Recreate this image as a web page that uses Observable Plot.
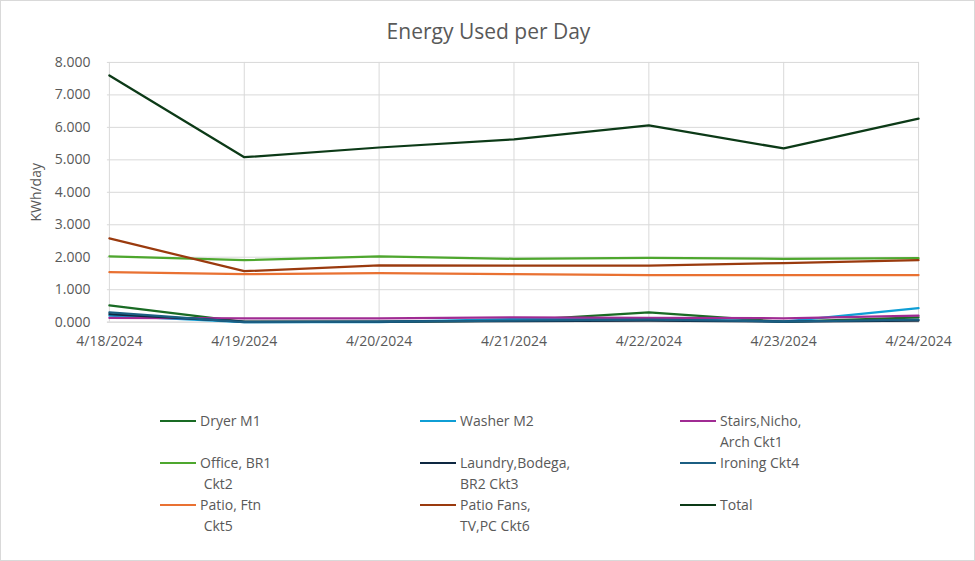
<!DOCTYPE html>
<html>
<head>
<meta charset="utf-8">
<script src="https://cdn.jsdelivr.net/npm/d3@7"></script>
<script src="https://cdn.jsdelivr.net/npm/@observablehq/plot@0.6"></script>
<style>
  html, body { margin: 0; padding: 0; background: #fff; }
  #wrap { position: relative; width: 975px; height: 561px; box-sizing: border-box; border: 1px solid #d9d9d9; overflow: hidden; font-family: "Open Sans", "Liberation Sans", sans-serif; color: #595959; }
  #title { position: absolute; top: 16px; left: 0; width: 975px; text-align: center; font-size: 21px; color: #595959; }
  #chart { position: absolute; top: -1px; left: -1px; }
  .leg { position: absolute; font-size: 14px; line-height: 21px; color: #595959; }
  .leg .sw { position: absolute; left: -40px; top: 9.5px; width: 36px; height: 2.5px; }
</style>
</head>
<body>
<div id="wrap">
  <div id="title">Energy Used per Day</div>
  <div id="chart"></div>
  <div id="legend"></div>
</div>
<script>
const dates = ["4/18/2024", "4/19/2024", "4/20/2024", "4/21/2024", "4/22/2024", "4/23/2024", "4/24/2024"];
const seriesNames = ["Dryer M1", "Washer M2", "Stairs,Nicho, Arch Ckt1", "Office, BR1 Ckt2", "Laundry,Bodega, BR2 Ckt3", "Ironing Ckt4", "Patio, Ftn Ckt5", "Patio Fans, TV,PC Ckt6", "Total"];
const legendLabels = ["Dryer M1", "Washer M2", "Stairs,Nicho,<br>Arch Ckt1", "Office, BR1<br>&nbsp;Ckt2", "Laundry,Bodega,<br>BR2 Ckt3", "Ironing Ckt4", "Patio, Ftn<br>&nbsp;Ckt5", "Patio Fans,<br>TV,PC Ckt6", "Total"];
const seriesColors = ["#196B24", "#0F9ED5", "#A02B93", "#4EA72E", "#0E2841", "#1B5E82", "#E97132", "#9A3A0E", "#0C3A17"];

const dryer    = [0.52, 0.01, 0.01, 0.05, 0.30, 0.01, 0.15];
const washer   = [0.20, 0.00, 0.00, 0.10, 0.10, 0.02, 0.43];
const stairs   = [0.13, 0.12, 0.12, 0.15, 0.13, 0.12, 0.20];
const office   = [2.03, 1.91, 2.03, 1.95, 1.98, 1.95, 1.97];
const laundry  = [0.25, 0.02, 0.02, 0.03, 0.05, 0.02, 0.05];
const ironing  = [0.30, 0.00, 0.02, 0.05, 0.08, 0.02, 0.08];
const patioFtn = [1.54, 1.48, 1.51, 1.48, 1.45, 1.45, 1.45];
const patioFans= [2.58, 1.57, 1.75, 1.74, 1.74, 1.82, 1.91];
const total    = [7.60, 5.08, 5.38, 5.63, 6.06, 5.35, 6.27];

const yTicks = [0, 1, 2, 3, 4, 5, 6, 7, 8];

const allSeries = [dryer, washer, stairs, office, laundry, ironing, patioFtn, patioFans, total];
const rows = [];
allSeries.forEach((vals, si) => {
  vals.forEach((v, di) => rows.push({date: dates[di], value: v, series: seriesNames[si]}));
});

const chart = Plot.plot({
  width: 975,
  height: 360,
  marginTop: 62,
  marginBottom: 38,
  marginLeft: 107,
  marginRight: 55,
  style: {fontFamily: "'Open Sans', 'Liberation Sans', sans-serif", fontSize: "14px", color: "#595959", background: "transparent"},
  x: {type: "point", domain: dates, padding: 0, label: null},
  y: {domain: [0, 8]},
  color: {domain: seriesNames, range: seriesColors},
  marks: [
    Plot.gridY(yTicks, {stroke: "#d9d9d9", strokeOpacity: 1, strokeWidth: 1}),
    Plot.gridX(dates, {stroke: "#d9d9d9", strokeOpacity: 1, strokeWidth: 1}),
    Plot.axisX({tickSize: 0, tickPadding: 14, label: null, fontSize: 14}),
    Plot.axisY({ticks: yTicks, tickFormat: d3.format(".3f"), tickSize: 0, tickPadding: 17, fontSize: 14, label: "KWh/day", labelAnchor: "center", labelArrow: "none", labelOffset: 76}),
    Plot.ruleY([0], {stroke: "#d9d9d9"}),
    Plot.lineY(rows, {x: "date", y: "value", z: "series", stroke: "series", strokeWidth: 2.25, strokeLinejoin: "round"})
  ]
});
document.getElementById("chart").appendChild(chart);

const legend = document.getElementById("legend");
const colX = [200, 460, 720];
const rowY = [410, 452, 494];
seriesNames.forEach((name, i) => {
  const d = document.createElement("div");
  d.className = "leg";
  d.style.left = (colX[i % 3] - 1) + "px";
  d.style.top = (rowY[Math.floor(i / 3)] - 1) + "px";
  d.innerHTML = `<span class="sw" style="background:${seriesColors[i]}"></span>` + legendLabels[i];
  legend.appendChild(d);
});
</script>
</body>
</html>
